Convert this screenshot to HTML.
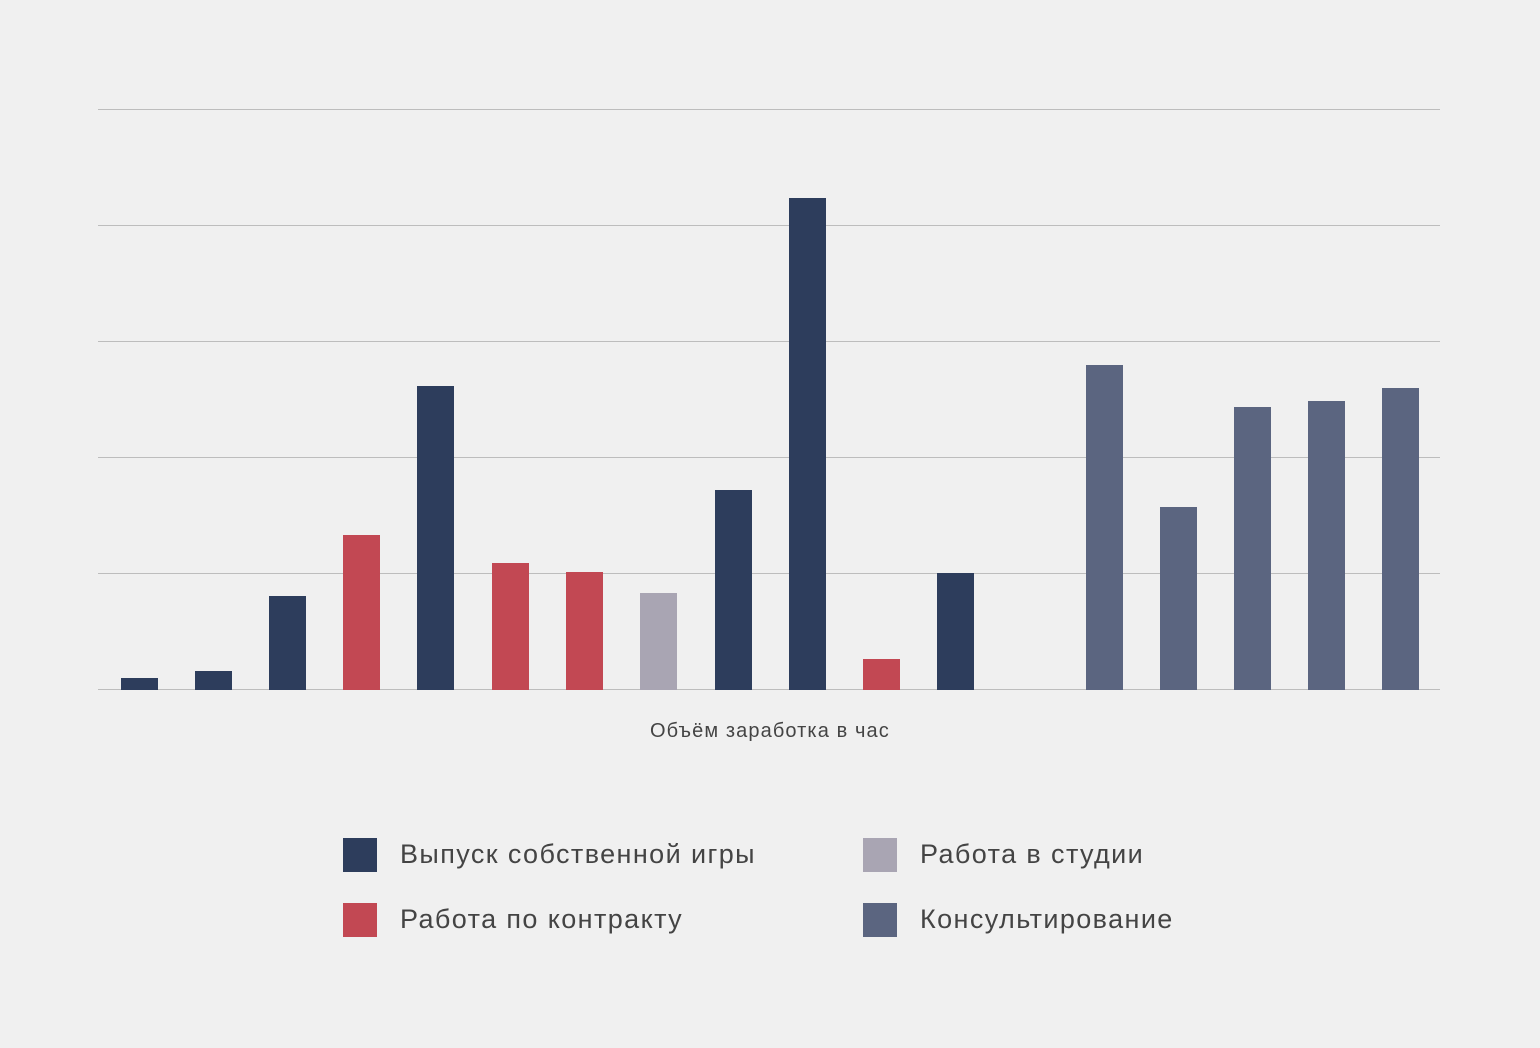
<!DOCTYPE html>
<html><head><meta charset="utf-8"><style>
html,body{margin:0;padding:0;background:#f0f0f0;}
body{width:1540px;height:1048px;position:relative;overflow:hidden;font-family:"Liberation Sans",sans-serif;}
.g{position:absolute;left:98px;width:1342px;height:1px;background:#bdbdbd;}
.b{position:absolute;width:37px;}
.n{background:#2d3d5c}.r{background:#c24853}.y{background:#a9a5b3}.s{background:#5b6580}
.sq{position:absolute;width:34px;height:34px;}
.t{position:absolute;font-size:27px;color:#444;line-height:34px;white-space:nowrap;letter-spacing:1.4px;}
</style></head><body>
<div class="g" style="top:109px"></div>
<div class="g" style="top:225px"></div>
<div class="g" style="top:341px"></div>
<div class="g" style="top:457px"></div>
<div class="g" style="top:573px"></div>
<div class="g" style="top:689px"></div>
<div class="b n" style="left:121px;top:678px;height:12px"></div>
<div class="b n" style="left:195px;top:671px;height:19px"></div>
<div class="b n" style="left:269px;top:596px;height:94px"></div>
<div class="b r" style="left:343px;top:535px;height:155px"></div>
<div class="b n" style="left:417px;top:386px;height:304px"></div>
<div class="b r" style="left:492px;top:563px;height:127px"></div>
<div class="b r" style="left:566px;top:572px;height:118px"></div>
<div class="b y" style="left:640px;top:593px;height:97px"></div>
<div class="b n" style="left:715px;top:490px;height:200px"></div>
<div class="b n" style="left:789px;top:198px;height:492px"></div>
<div class="b r" style="left:863px;top:659px;height:31px"></div>
<div class="b n" style="left:937px;top:573px;height:117px"></div>
<div class="b s" style="left:1086px;top:365px;height:325px"></div>
<div class="b s" style="left:1160px;top:507px;height:183px"></div>
<div class="b s" style="left:1234px;top:407px;height:283px"></div>
<div class="b s" style="left:1308px;top:401px;height:289px"></div>
<div class="b s" style="left:1382px;top:388px;height:302px"></div>
<div style="position:absolute;left:650px;top:720px;font-size:20px;color:#444;letter-spacing:1.1px;white-space:nowrap;">Объём заработка в час</div>
<div class="sq n" style="left:343px;top:838px"></div><div class="t" style="left:400px;top:837px">Выпуск собственной игры</div>
<div class="sq r" style="left:343px;top:903px"></div><div class="t" style="left:400px;top:902px">Работа по контракту</div>
<div class="sq y" style="left:863px;top:838px"></div><div class="t" style="left:920px;top:837px">Работа в студии</div>
<div class="sq s" style="left:863px;top:903px"></div><div class="t" style="left:920px;top:902px">Консультирование</div>
</body></html>
